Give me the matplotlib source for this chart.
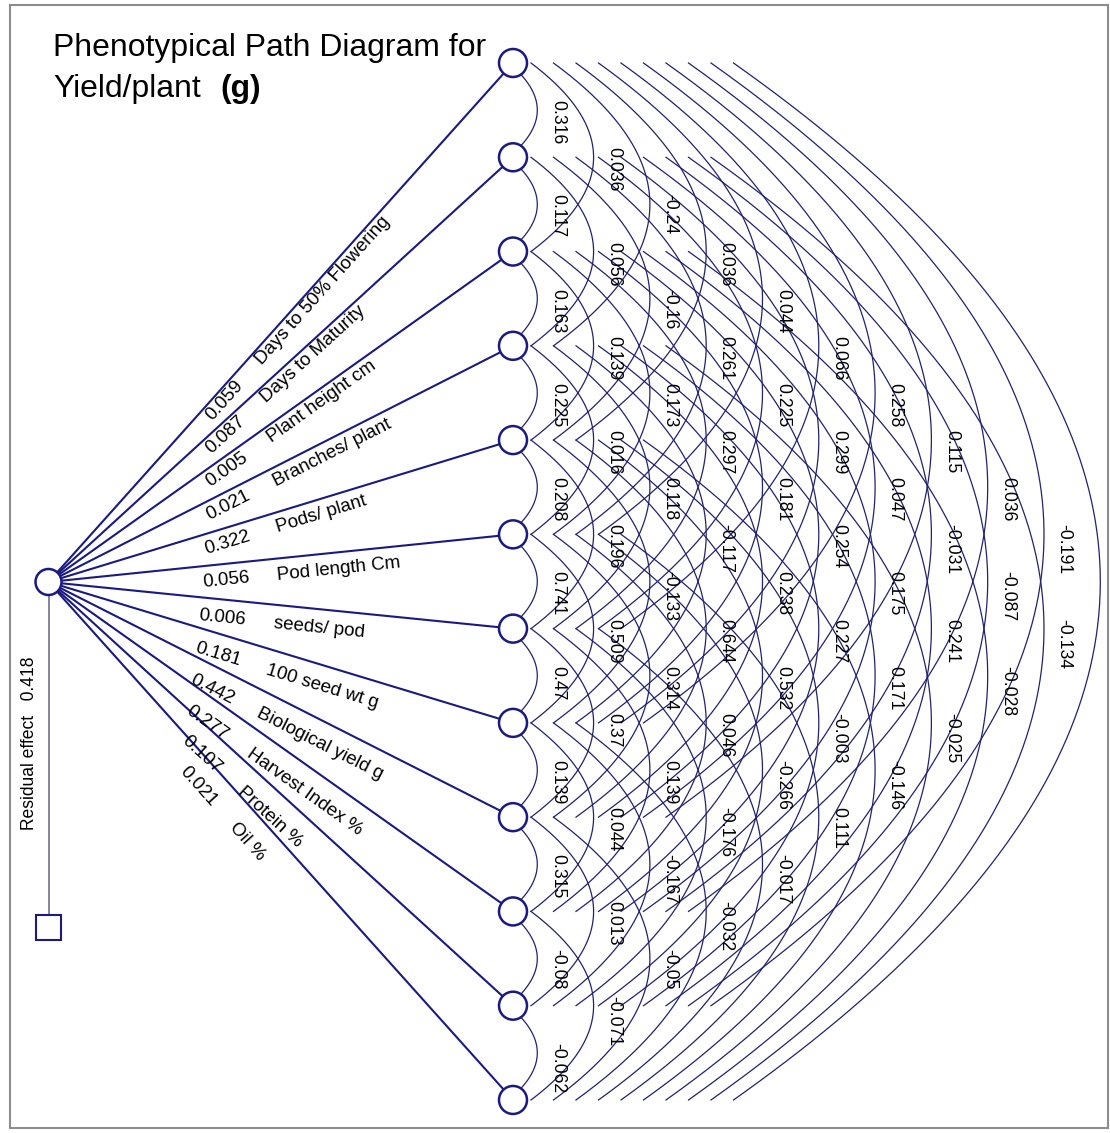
import numpy as np
import matplotlib
matplotlib.use("Agg")
import matplotlib.pyplot as plt
from matplotlib.patches import Circle, Rectangle
from matplotlib import font_manager as fm

# traits and direct effects on yield/plant
traits = ["Days to 50% Flowering", "Days to Maturity", "Plant height cm",
          "Branches/ plant", "Pods/ plant", "Pod length Cm", "seeds/ pod",
          "100 seed wt g", "Biological yield g", "Harvest Index %",
          "Protein %", "Oil %"]
direct = [0.059, 0.087, 0.005, 0.021, 0.322, 0.056, 0.006, 0.181, 0.442,
          0.277, 0.107, 0.021]
residual = 0.418

# correlations r(i, i+g), one list per gap g
gap1 = [0.316, 0.117, 0.163, 0.225, 0.208, 0.741, 0.47, 0.139, 0.315, -0.08, -0.062]
gap2 = [0.036, 0.056, 0.139, 0.016, 0.196, 0.509, 0.37, 0.044, 0.013, -0.071]
gap3 = [-0.24, -0.16, 0.173, 0.118, -0.133, 0.314, 0.139, -0.167, -0.05]
gap4 = [0.036, 0.261, 0.297, -0.117, 0.644, 0.046, -0.176, -0.032]
gap5 = [0.044, 0.225, 0.181, 0.238, 0.532, -0.266, -0.017]
gap6 = [0.066, 0.299, 0.254, 0.227, -0.003, 0.111]
gap7 = [0.258, 0.047, 0.175, 0.171, -0.146]
gap8 = [0.115, -0.031, 0.241, -0.025]
gap9 = [0.036, -0.087, -0.028]
gap10 = [-0.191, -0.134]
corr_by_gap = [gap1, gap2, gap3, gap4, gap5, gap6, gap7, gap8, gap9, gap10]

have_narrow = any(f.name == "Liberation Sans Narrow" for f in fm.fontManager.ttflist)
if have_narrow:
    plt.rcParams["font.family"] = ["Liberation Sans Narrow", "Liberation Sans"]
    fk = 1.0
else:
    plt.rcParams["font.family"] = ["Liberation Sans", "DejaVu Sans"]
    fk = 0.87

W, H = 1110, 1133
fig = plt.figure(figsize=(W / 100, H / 100), dpi=100)
ax = fig.add_axes([0, 0, 1, 1])
ax.set_xlim(0, W)
ax.set_ylim(H, 0)
ax.axis("off")

navy = "#1a1a80"
arc_col = "#22226e"
n = len(traits)
cx, cy = 48.5, 582
node_x = 513
node_y = 63 + 94.27 * np.arange(n)

# correlation arcs between every pair of nodes
for g in range(1, n):
    xs = 486 + 22.5 * g
    xp = 481 + 56.3 * g
    for i in range(n - g):
        j = i + g
        ym = (node_y[i] + node_y[j]) / 2
        h = (node_y[j] - node_y[i]) / 2
        y = np.linspace(node_y[i], node_y[j], 300)
        x = xs + (xp - xs) * (1 - ((y - ym) / h) ** 2)
        ax.plot(x, y, color=arc_col, lw=0.9, zorder=2)
        if g <= len(corr_by_gap):
            ax.text(xp + 20, ym - 10, str(corr_by_gap[g - 1][i]), rotation=-90,
                    rotation_mode="anchor", ha="left", va="center",
                    fontsize=14.6 * fk, color="black", zorder=6)

# direct paths from the centre node
for k in range(n):
    dx, dy = node_x - cx, node_y[k] - cy
    L = np.hypot(dx, dy)
    ux, uy = dx / L, dy / L
    ax.plot([cx, node_x], [cy, node_y[k]], color=navy, lw=1.5, zorder=3)
    ang = np.degrees(np.arctan2(-dy, dx))
    nx, ny = -uy, ux
    p = 9 + 10 * uy
    t0 = (201 - cx) / ux
    for txt, d in ((str(direct[k]), t0), (traits[k], t0 + 75)):
        ax.text(cx + ux * d + nx * p, cy + uy * d + ny * p, txt, rotation=ang,
                rotation_mode="anchor", ha="left", va="top",
                fontsize=15.5 * fk, color="black", zorder=6)
    ax.add_patch(Circle((node_x, node_y[k]), 14, fc="white", ec=navy, lw=1.8, zorder=5))

ax.add_patch(Circle((cx, cy), 13, fc="white", ec=navy, lw=1.8, zorder=5))

# residual
ax.plot([cx, cx], [cy + 13, 915], color="#707090", lw=1.2, zorder=3)
ax.add_patch(Rectangle((cx - 12.5, 915), 25, 25, fc="white", ec=navy, lw=1.5, zorder=5))
ax.text(30, 743, f"Residual effect   {residual}", rotation=90, ha="center",
        va="center", fontsize=14.5 * fk)

# title
tk = 0.82 if not have_narrow else 1.0
ax.text(53, 56, "Phenotypical Path Diagram for", fontsize=28 * tk, va="baseline")
t2 = ax.text(53, 97, "Yield/plant", fontsize=28 * tk, va="baseline")
ax.annotate("(g)", xy=(1, 0), xycoords=t2, xytext=(14, 0), textcoords="offset points",
            fontsize=28 * tk, fontweight="bold", va="bottom", ha="left")

# frame
ax.add_patch(Rectangle((10, 5), 1098, 1123, fill=False, ec="#8c8c8c", lw=1.5, zorder=1))

fig.savefig("out.png", dpi=100)
